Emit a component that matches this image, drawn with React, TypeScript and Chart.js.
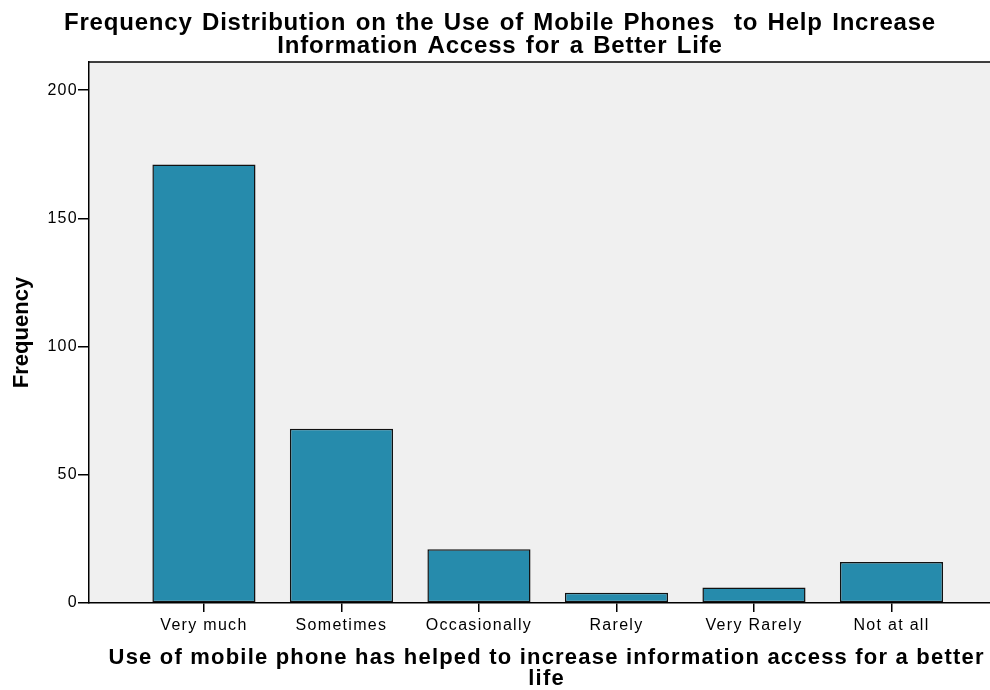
import React, { useEffect, useRef } from "react";
import { Chart, registerables } from "chart.js";

Chart.register(...registerables);

const categories = ["Very much", "Sometimes", "Occasionally", "Rarely", "Very Rarely", "Not at all"];
const frequencies = [171, 68, 21, 4, 6, 16];
const yTicks = [0, 50, 100, 150, 200];
const titleLines = [
  "Frequency Distribution on the Use of Mobile Phones  to Help Increase",
  "Information Access for a Better Life",
];
const xTitleLines = [
  "Use of mobile phone has helped to increase information access for a better",
  "life",
];
const yTitleText = "Frequency";

const SANS = '"Liberation Sans", Arial, sans-serif';

const plotDecor = {
  id: "plotDecor",
  beforeDraw(chart: any) {
    const { ctx, chartArea: a } = chart;
    ctx.letterSpacing = "1.3px";
    ctx.save();
    ctx.fillStyle = "#f0f0f0";
    ctx.fillRect(a.left, a.top, a.right - a.left, a.bottom - a.top);
    ctx.restore();
  },
  beforeDatasetsDraw(chart: any) {
    const { ctx, chartArea: a } = chart;
    ctx.save();
    ctx.strokeStyle = "#000";
    ctx.lineWidth = 1.5;
    ctx.beginPath();
    ctx.moveTo(a.left, a.top);
    ctx.lineTo(a.right, a.top);
    ctx.stroke();
    ctx.restore();
  },
  afterDraw(chart: any) {
    const { ctx, chartArea: a } = chart;
    ctx.save();
    ctx.fillStyle = "#000";
    ctx.textAlign = "center";
    ctx.textBaseline = "alphabetic";
    // main title
    ctx.letterSpacing = "0.8px";
    ctx.wordSpacing = "0px";
    ctx.font = `bold 24px ${SANS}`;
    const w0 = ctx.measureText(titleLines[0]).width;
    const spaces = titleLines[0].split(" ").length - 1;
    const ws = Math.max(0, (872 - w0) / spaces);
    ctx.wordSpacing = `${ws.toFixed(2)}px`;
    const titleBaselines = [29.5, 52.5];
    titleLines.forEach((line, i) => {
      ctx.fillText(line, 500, titleBaselines[i]);
    });
    ctx.wordSpacing = "0px";
    // x axis title
    ctx.letterSpacing = "1.2px";
    ctx.font = `bold 22px ${SANS}`;
    const xc = (a.left + a.right) / 2;
    const xBaselines = [664, 685];
    xTitleLines.forEach((line, i) => {
      ctx.fillText(line, xc + 0.6, xBaselines[i]);
    });
    // y axis title
    ctx.letterSpacing = "0px";
    ctx.font = `bold 22px ${SANS}`;
    ctx.translate(28, (a.top + a.bottom) / 2);
    ctx.rotate(-Math.PI / 2);
    ctx.fillText(yTitleText, 0, 0);
    ctx.restore();
  },
};

export default function App() {
  const ref = useRef<HTMLCanvasElement | null>(null);
  useEffect(() => {
    if (!ref.current) return;
    const chart = new Chart(ref.current, {
      type: "bar",
      data: {
        datasets: [
          {
            data: frequencies.map((v, i) => ({ x: i, y: v })),
            backgroundColor: "#268bac",
            borderColor: "#111",
            borderWidth: 1.5,
            borderSkipped: false,
            categoryPercentage: 1,
            barPercentage: 0.75,
          },
        ],
      },
      options: {
        animation: false,
        responsive: false,
        maintainAspectRatio: false,
        layout: { padding: { left: 0, right: 0, top: 62, bottom: 0 } },
        plugins: {
          legend: { display: false },
          tooltip: { enabled: false },
          title: { display: false },
        },
        scales: {
          x: {
            type: "linear",
            offset: false,
            min: -0.836,
            max: 5.811,
            afterBuildTicks: (axis: any) => {
              axis.ticks = categories.map((_, i) => ({ value: i }));
            },
            afterFit: (axis: any) => {
              axis.height = 87;
            },
            ticks: {
              callback: (v: any) => categories[v as number],
              color: "#000",
              font: { family: SANS, size: 16 },
              padding: 4,
              maxRotation: 0,
              autoSkip: false,
            },
            grid: { display: true, offset: false, drawOnChartArea: false, drawTicks: true, tickLength: 9, color: "#000", lineWidth: 1.5 },
            border: { display: true, color: "#000", width: 1.5 },
            title: { display: false },
          },
          y: {
            type: "linear",
            min: 0,
            max: 211,
            afterBuildTicks: (axis: any) => {
              axis.ticks = yTicks.map((v) => ({ value: v }));
            },
            afterFit: (axis: any) => {
              axis.width = 89;
            },
            ticks: {
              color: "#000",
              font: { family: SANS, size: 16 },
              padding: 0,
            },
            grid: { display: true, drawOnChartArea: false, drawTicks: true, tickLength: 11, color: "#000", lineWidth: 1.5 },
            border: { display: true, color: "#000", width: 1.5 },
            title: { display: false },
          },
        },
      },
      plugins: [plotDecor],
    });
    return () => chart.destroy();
  }, []);
  return (
    <div style={{ position: "fixed", left: 0, top: 0, width: 990, height: 690, overflow: "hidden", background: "#fff" }}>
      <canvas ref={ref} width={1003} height={690} style={{ display: "block" }} />
    </div>
  );
}
